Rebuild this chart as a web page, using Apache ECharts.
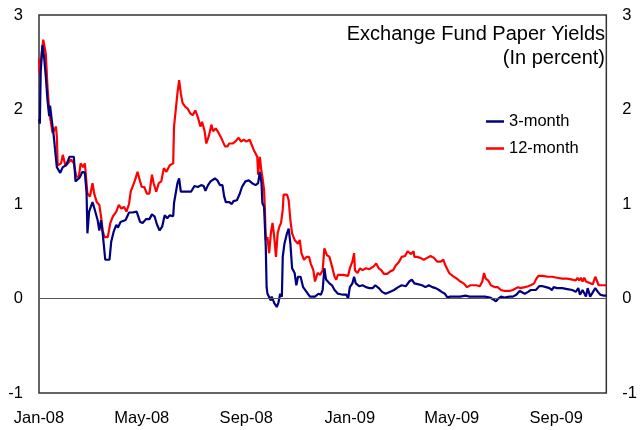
<!DOCTYPE html>
<html>
<head>
<meta charset="utf-8">
<script src="https://cdn.jsdelivr.net/npm/echarts@6/dist/echarts.min.js"></script>
<style>
	html, body { margin: 0; padding: 0; background: #fff; }
	#efChart { width: 640px; height: 430px; }
</style>
</head>
<body>
<div id="efChart"></div>
<script>
// x values are days counted from 1 Jan 2008
const tickDays = [0, 121, 244, 366, 486, 609]
const tickLabels = ['Jan-08', 'May-08', 'Sep-08', 'Jan-09', 'May-09', 'Sep-09']

const days3m = [0, 1, 2, 4, 6, 8, 10, 12, 13, 15, 17, 19, 21, 25, 28, 32, 36, 41, 43, 48, 51, 54, 56, 57, 59, 61, 63, 65, 69, 71, 73, 75, 78, 83, 85, 88, 91, 93, 96, 102, 106, 110, 115, 119, 122, 126, 130, 133, 136, 139, 142, 145, 148, 151, 154, 158, 159, 163, 165, 167, 171, 179, 183, 187, 191, 194, 196, 199, 202, 207, 210, 213, 216, 218, 220, 224, 227, 229, 233, 236, 239, 243, 247, 251, 255, 258, 260, 262, 263, 265, 267, 268, 269, 271, 273, 274, 277, 280, 282, 284, 286, 287, 289, 292, 294, 296, 298, 301, 303, 305, 308, 311, 315, 319, 325, 329, 332, 334, 336, 338, 342, 345, 348, 352, 358, 362, 364, 366, 369, 371, 373, 377, 381, 385, 389, 393, 396, 400, 404, 408, 413, 418, 423, 427, 432, 436, 439, 442, 447, 451, 455, 459, 463, 467, 471, 474, 478, 481, 484, 490, 496, 502, 507, 513, 519, 525, 531, 535, 538, 541, 544, 548, 554, 558, 562, 566, 568, 572, 576, 579, 585, 589, 593, 597, 601, 604, 606, 610, 616, 622, 628, 632, 635, 637, 640, 644, 646, 649, 651, 655, 658, 661, 665, 668]
const yield3m = [1.90, 1.85, 2.40, 2.68, 2.55, 2.35, 2.10, 1.93, 2.04, 1.89, 1.75, 1.73, 1.39, 1.33, 1.39, 1.41, 1.50, 1.50, 1.24, 1.28, 1.34, 1.33, 1.12, 0.69, 0.92, 0.90, 1.02, 0.96, 0.83, 0.72, 0.83, 0.69, 0.41, 0.41, 0.60, 0.71, 0.78, 0.75, 0.81, 0.83, 0.91, 0.91, 0.92, 0.81, 0.80, 0.84, 0.84, 0.89, 0.87, 0.78, 0.72, 0.76, 0.88, 0.85, 0.88, 0.87, 1.01, 1.22, 1.27, 1.13, 1.13, 1.13, 1.19, 1.18, 1.20, 1.19, 1.14, 1.20, 1.24, 1.27, 1.25, 1.20, 1.20, 1.08, 1.02, 1.02, 1.00, 1.03, 1.04, 1.10, 1.18, 1.24, 1.25, 1.22, 1.20, 1.22, 1.34, 1.22, 1.01, 0.97, 0.55, 0.12, 0.05, 0.06, -0.02, 0.02, -0.05, -0.09, -0.04, 0.05, 0.02, 0.44, 0.58, 0.69, 0.74, 0.58, 0.32, 0.27, 0.14, 0.23, 0.23, 0.12, 0.07, 0.02, 0.02, 0.05, 0.04, 0.09, 0.32, 0.20, 0.16, 0.14, 0.09, 0.05, 0.04, 0.04, 0.00, 0.12, 0.16, 0.23, 0.16, 0.13, 0.14, 0.12, 0.11, 0.11, 0.14, 0.11, 0.07, 0.05, 0.07, 0.09, 0.12, 0.14, 0.13, 0.18, 0.20, 0.16, 0.15, 0.14, 0.12, 0.14, 0.12, 0.11, 0.09, 0.07, 0.05, 0.01, 0.02, 0.02, 0.02, 0.03, 0.02, 0.02, 0.02, 0.02, 0.01, -0.01, -0.03, 0.00, 0.02, 0.01, 0.02, 0.02, 0.04, 0.08, 0.06, 0.05, 0.07, 0.09, 0.09, 0.13, 0.13, 0.12, 0.11, 0.09, 0.12, 0.11, 0.11, 0.10, 0.09, 0.07, 0.11, 0.04, 0.09, 0.02, 0.11, 0.02, 0.04, 0.11, 0.07, 0.04, 0.03, 0.03]

const days12m = [0, 1, 3, 5, 8, 10, 12, 13, 14, 16, 18, 20, 21, 22, 23, 26, 28, 31, 34, 38, 41, 44, 47, 49, 52, 54, 57, 60, 63, 65, 68, 71, 73, 75, 77, 81, 84, 87, 91, 94, 97, 100, 103, 106, 108, 110, 113, 116, 119, 121, 124, 127, 130, 133, 135, 138, 141, 144, 147, 150, 152, 154, 158, 159, 163, 165, 167, 169, 172, 175, 178, 181, 184, 187, 190, 192, 195, 197, 200, 203, 205, 208, 211, 214, 216, 219, 222, 224, 228, 231, 235, 238, 241, 244, 248, 250, 253, 255, 257, 258, 260, 262, 263, 265, 266, 267, 269, 271, 273, 275, 277, 279, 281, 283, 285, 287, 288, 292, 294, 296, 298, 301, 303, 305, 307, 309, 312, 315, 318, 320, 323, 325, 328, 331, 334, 336, 339, 342, 345, 348, 350, 352, 358, 364, 366, 369, 371, 372, 375, 378, 381, 385, 389, 394, 397, 400, 403, 406, 410, 414, 417, 420, 424, 427, 431, 434, 438, 441, 442, 445, 449, 453, 457, 461, 465, 469, 473, 476, 479, 483, 487, 492, 496, 500, 504, 508, 511, 515, 519, 522, 524, 526, 529, 532, 537, 540, 544, 548, 554, 558, 560, 564, 567, 572, 576, 579, 583, 585, 588, 593, 599, 604, 610, 616, 622, 628, 632, 634, 636, 638, 640, 642, 644, 647, 652, 655, 657, 659, 663, 668]
const yield12m = [2.54, 2.36, 2.58, 2.74, 2.59, 2.24, 1.99, 1.92, 1.94, 1.75, 1.75, 1.82, 1.71, 1.41, 1.39, 1.43, 1.52, 1.41, 1.43, 1.47, 1.43, 1.29, 1.29, 1.43, 1.39, 1.43, 1.11, 1.08, 1.22, 1.11, 1.02, 0.99, 0.87, 0.72, 0.65, 0.65, 0.80, 0.87, 0.92, 0.99, 0.95, 0.97, 0.92, 1.00, 1.13, 1.11, 1.25, 1.34, 1.24, 1.18, 1.18, 1.11, 1.11, 1.31, 1.22, 1.13, 1.22, 1.24, 1.38, 1.34, 1.33, 1.41, 1.43, 1.82, 2.17, 2.31, 2.17, 2.07, 2.03, 2.01, 1.96, 1.94, 1.99, 1.92, 1.82, 1.87, 1.77, 1.64, 1.72, 1.84, 1.77, 1.80, 1.76, 1.71, 1.72, 1.61, 1.61, 1.64, 1.64, 1.66, 1.70, 1.66, 1.68, 1.66, 1.68, 1.66, 1.57, 1.55, 1.50, 1.31, 1.50, 1.34, 1.29, 1.15, 0.94, 0.62, 0.65, 0.48, 0.69, 0.80, 0.65, 0.44, 0.69, 0.76, 0.80, 0.94, 1.10, 1.10, 1.04, 0.83, 0.69, 0.62, 0.63, 0.58, 0.62, 0.48, 0.41, 0.44, 0.44, 0.37, 0.30, 0.18, 0.27, 0.25, 0.30, 0.53, 0.46, 0.44, 0.34, 0.23, 0.20, 0.25, 0.25, 0.24, 0.32, 0.39, 0.48, 0.30, 0.27, 0.32, 0.30, 0.32, 0.31, 0.34, 0.37, 0.32, 0.30, 0.26, 0.26, 0.29, 0.30, 0.35, 0.39, 0.44, 0.45, 0.50, 0.47, 0.50, 0.44, 0.44, 0.43, 0.41, 0.43, 0.45, 0.43, 0.39, 0.39, 0.41, 0.34, 0.27, 0.24, 0.21, 0.18, 0.16, 0.12, 0.14, 0.14, 0.14, 0.13, 0.18, 0.27, 0.21, 0.19, 0.14, 0.12, 0.12, 0.09, 0.08, 0.08, 0.09, 0.11, 0.12, 0.11, 0.12, 0.13, 0.14, 0.16, 0.20, 0.24, 0.24, 0.23, 0.23, 0.22, 0.21, 0.21, 0.20, 0.19, 0.22, 0.19, 0.22, 0.18, 0.22, 0.18, 0.17, 0.15, 0.23, 0.22, 0.14, 0.14, 0.14]

const yTicks = { min: -1, max: 3, interval: 1 }
const font = 'Liberation Sans, Arial, sans-serif'

const initChart = () => {
	const chartDom = document.getElementById('efChart')
	const myChart = echarts.init(chartDom, null, { renderer: 'canvas' })
	const yAxisBase = {
		type: 'value',
		min: yTicks.min,
		max: yTicks.max,
		interval: yTicks.interval,
		axisLine: { show: false },
		axisTick: { show: false },
		splitLine: { show: false },
		axisLabel: { color: '#000', fontSize: 16.5, fontFamily: font, margin: 16 }
	}
	const options = {
		animation: false,
		backgroundColor: '#fff',
		grid: {
			left: 39,
			right: 27,
			top: 15,
			bottom: 37,
			show: true,
			borderColor: '#333',
			borderWidth: 1.5
		},
		graphic: [
			{
				type: 'text',
				right: 35,
				top: 24,
				style: { text: 'Exchange Fund Paper Yields', font: '20px ' + font, fill: '#000', textAlign: 'right' }
			},
			{
				type: 'text',
				right: 35,
				top: 48,
				style: { text: '(In percent)', font: '20px ' + font, fill: '#000', textAlign: 'right' }
			}
		],
		legend: {
			orient: 'vertical',
			left: 481,
			top: 108,
			icon: 'rect',
			itemWidth: 18,
			itemHeight: 2.5,
			itemGap: 10,
			textStyle: { color: '#000', fontSize: 16.5, fontFamily: font, lineHeight: 17 },
			data: ['3-month', '12-month']
		},
		xAxis: {
			type: 'value',
			min: 0,
			max: 668,
			axisLine: { show: false },
			axisTick: { show: false },
			splitLine: { show: false },
			axisLabel: {
				customValues: tickDays,
				showMinLabel: true,
				showMaxLabel: true,
				hideOverlap: false,
				color: '#000',
				fontSize: 16.5,
				fontFamily: font,
				margin: 17,
				formatter: (v) => tickLabels[tickDays.indexOf(v)] || ''
			}
		},
		yAxis: [
			Object.assign({ position: 'left' }, yAxisBase),
			Object.assign({ position: 'right' }, yAxisBase)
		],
		series: [
			{
				name: '3-month',
				type: 'line',
				symbol: 'none',
				color: '#000080',
				lineStyle: { width: 2.2, color: '#000080' },
				data: days3m.map((d, i) => [d, yield3m[i]]),
				markLine: {
					silent: true,
					symbol: 'none',
					label: { show: false },
					lineStyle: { color: '#555', width: 1.2, type: 'solid' },
					data: [{ yAxis: 0 }]
				},
				z: 3
			},
			{
				name: '12-month',
				type: 'line',
				symbol: 'none',
				color: '#ff0000',
				lineStyle: { width: 2.2, color: '#ff0000' },
				data: days12m.map((d, i) => [d, yield12m[i]]),
				z: 2
			}
		]
	}
	myChart.setOption(options)
	return myChart
}
initChart()
</script>
</body>
</html>
